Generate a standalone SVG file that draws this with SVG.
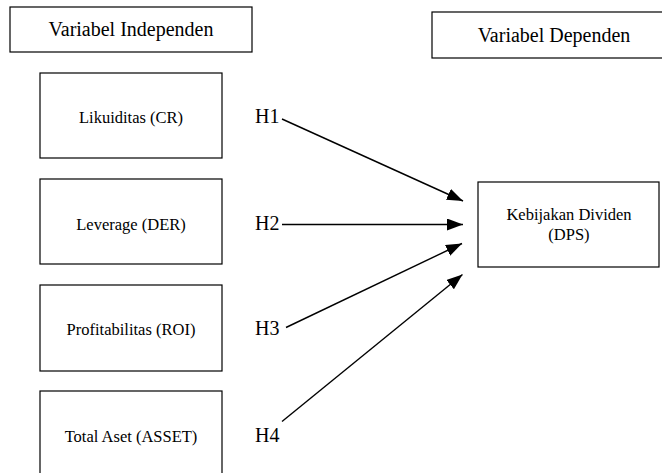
<svg xmlns="http://www.w3.org/2000/svg" width="662" height="473" viewBox="0 0 662 473">
<style>
.box{fill:#fff;stroke:#000;stroke-width:1.2}
text{font-family:'Liberation Serif','DejaVu Serif','Noto Serif',serif;fill:#000}
.hdr{font-size:20px;text-anchor:middle}
.lbl{font-size:16.5px;text-anchor:middle}
.h{font-size:20px}
.conn{stroke:#000;stroke-width:1.4;fill:none;marker-end:url(#arr)}
</style>
<defs>
<marker id="arr" markerUnits="userSpaceOnUse" markerWidth="16" markerHeight="12" refX="16" refY="6" orient="auto">
<path d="M0,0 L16,6 L0,12 z" fill="#000"/>
</marker>
</defs>
<rect width="662" height="473" fill="#fff"/>
<g id="hdr-independen">
<rect class="box" x="10" y="7" width="242" height="45"/>
<text class="hdr" x="131" y="36">Variabel Independen</text>
</g>
<g id="hdr-dependen">
<rect class="box" x="432" y="12" width="240" height="46"/>
<text class="hdr" x="554" y="41.5">Variabel Dependen</text>
</g>
<g id="node-cr">
<rect class="box" x="40" y="73" width="182" height="85"/>
<text class="lbl" x="131" y="122.5">Likuiditas (CR)</text>
</g>
<g id="node-der">
<rect class="box" x="40" y="179" width="182" height="85"/>
<text class="lbl" x="131" y="230">Leverage (DER)</text>
</g>
<g id="node-roi">
<rect class="box" x="40" y="285" width="182" height="86"/>
<text class="lbl" x="131" y="335">Profitabilitas (ROI)</text>
</g>
<g id="node-asset">
<rect class="box" x="40" y="391" width="182" height="90"/>
<text class="lbl" x="131" y="441.5">Total Aset (ASSET)</text>
</g>
<g id="node-dps">
<rect class="box" x="478" y="182" width="181" height="85"/>
<text class="lbl" x="569" y="220">Kebijakan Dividen</text>
<text class="lbl" x="569" y="239.5">(DPS)</text>
</g>
<g id="labels">
<text class="h" x="255" y="122.5">H1</text>
<text class="h" x="255" y="230">H2</text>
<text class="h" x="255" y="335">H3</text>
<text class="h" x="255" y="441.5">H4</text>
</g>
<g id="connectors">
<line class="conn" x1="282" y1="119" x2="463" y2="201"/>
<line class="conn" x1="282" y1="224.5" x2="463" y2="224.5"/>
<line class="conn" x1="286" y1="327.5" x2="462" y2="243.5"/>
<line class="conn" x1="282" y1="421.5" x2="462.5" y2="274.5"/>
</g>
</svg>
